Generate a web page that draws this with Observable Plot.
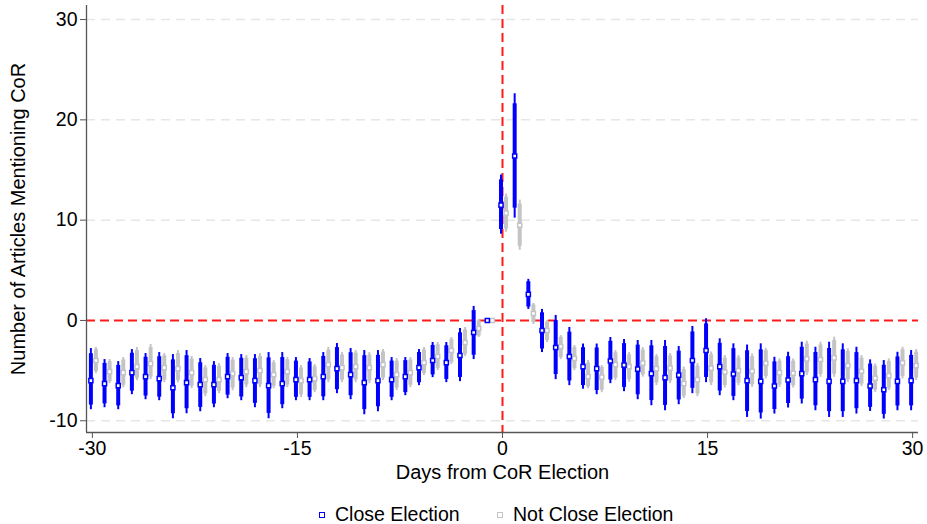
<!DOCTYPE html>
<html>
<head>
<meta charset="utf-8">
<script src="https://cdn.jsdelivr.net/npm/d3@7"></script>
<script src="https://cdn.jsdelivr.net/npm/@observablehq/plot@0.6"></script>
<style>
  html, body { margin: 0; padding: 0; background: #fff; }
  body { font-family: "Liberation Sans", Arial, Helvetica, sans-serif; width: 927px; }
  #legend { position: relative; height: 34px; font-size: 19.5px; color: #000; }
  #legend .item { position: absolute; top: 13px; display: flex; align-items: center; white-space: nowrap; }
  #legend .sw { width: 4px; height: 4px; border: 1.8px solid; background: #fff; margin-right: 10px; }
</style>
</head>
<body>
<div id="chart"></div>
<div id="legend">
  <div class="item" style="left:319px"><span class="sw" style="border-color:#0000ff"></span><span>Close Election</span></div>
  <div class="item" style="left:497px"><span class="sw" style="border-color:#c4c4c4"></span><span>Not Close Election</span></div>
</div>
<script>
// Days relative to CoR election
const days = [-30,-29,-28,-27,-26,-25,-24,-23,-22,-21,-20,-19,-18,-17,-16,-15,-14,-13,-12,-11,-10,-9,-8,-7,-6,-5,-4,-3,-2,-1,
  0,1,2,3,4,5,6,7,8,9,10,11,12,13,14,15,16,17,18,19,20,21,22,23,24,25,26,27,28,29,30];

// Close Election: point estimate, upper and lower 95% bounds
const closeEst = [-6.0,-6.3,-6.5,-5.2,-5.6,-5.8,-6.7,-6.2,-6.4,-6.4,-5.6,-5.7,-6.0,-6.5,-6.3,-5.9,-5.9,-5.6,-4.8,-5.4,-6.2,-6.0,-5.9,-5.6,-4.7,-4.0,-4.2,-3.5,-1.2,0,
  11.5,16.4,2.6,-1.0,-2.7,-3.6,-4.6,-4.8,-4.05,-4.45,-4.85,-5.3,-5.7,-5.45,-4.0,-3.0,-4.6,-5.33,-6.0,-6.07,-6.53,-5.93,-5.3,-5.9,-6.07,-6.07,-6.0,-6.53,-6.9,-6.07,-6.0];
const closeHi = [-2.8,-3.9,-4.1,-2.9,-3.3,-3.2,-3.4,-3.0,-3.8,-4.1,-3.3,-3.4,-3.4,-3.2,-3.2,-3.7,-3.8,-3.2,-2.3,-2.8,-3.0,-3.0,-3.7,-3.7,-2.9,-2.2,-2.2,-0.8,1.4,null,
  14.5,22.6,4.1,1.1,0.5,-0.7,-2.35,-2.35,-1.7,-1.9,-2.0,-2.0,-2.0,-2.6,-0.6,0.17,-1.83,-2.33,-2.45,-2.33,-3.67,-3.17,-2.17,-2.67,-2.17,-2.33,-2.67,-3.93,-4.0,-3.17,-3.0];
const closeLo = [-8.9,-8.7,-8.9,-7.4,-7.9,-8.0,-9.8,-9.3,-9.1,-8.7,-7.8,-8.0,-8.7,-9.8,-8.8,-8.0,-8.0,-8.0,-7.3,-7.9,-9.4,-9.1,-8.0,-7.5,-6.5,-5.7,-6.2,-6.1,-3.9,null,
  8.6,10.2,1.1,-3.2,-5.9,-6.5,-6.85,-7.4,-6.3,-7.1,-7.9,-8.5,-9.0,-8.4,-7.3,-6.2,-7.5,-8.0,-9.67,-9.83,-9.33,-8.73,-8.33,-9.0,-9.67,-9.67,-9.33,-9.07,-9.83,-9.0,-9.0];

// Not Close Election
const notEst = [-4.0,-5.1,-5.2,-4.6,-4.3,-4.7,-4.8,-5.2,-5.9,-5.9,-5.3,-5.1,-5.0,-5.4,-5.1,-6.0,-5.8,-4.4,-4.7,-4.6,-4.7,-4.4,-5.4,-5.2,-4.2,-3.6,-3.0,-2.2,-0.8,0,
  10.7,9.5,0.7,-1.0,-2.6,-3.8,-5.6,-5.65,-4.4,-4.6,-4.25,-4.8,-4.75,-6.3,-5.9,-4.75,-5.13,-5.0,-5.07,-4.27,-5.2,-5.27,-3.83,-3.9,-3.73,-4.5,-5.07,-5.77,-5.5,-4.23,-4.5];
const notHi = [-2.7,-3.9,-3.7,-2.7,-2.4,-3.3,-3.0,-3.6,-4.5,-4.3,-3.7,-3.5,-3.3,-4.0,-3.7,-4.5,-4.4,-2.7,-3.2,-3.0,-3.2,-2.9,-3.8,-3.7,-2.7,-2.2,-1.7,-0.7,0.1,null,
  12.6,12.0,1.7,0.0,-1.5,-2.5,-4.0,-4.5,-3.0,-3.2,-2.7,-3.4,-3.3,-4.65,-4.3,-3.15,-3.5,-3.5,-3.33,-2.77,-3.83,-3.83,-2.07,-2.17,-1.67,-2.83,-3.5,-4.33,-3.83,-2.67,-2.9];
const notLo = [-5.3,-6.3,-6.7,-6.0,-5.9,-6.2,-6.2,-6.8,-7.6,-7.3,-7.0,-6.7,-6.7,-6.8,-6.7,-7.7,-7.2,-6.2,-6.2,-6.2,-6.3,-6.0,-7.0,-6.7,-5.5,-5.0,-4.4,-3.6,-1.7,null,
  8.8,7.0,-0.4,-2.2,-3.9,-5.0,-6.8,-7.2,-6.0,-6.15,-5.65,-6.5,-6.3,-7.8,-7.6,-6.5,-6.73,-6.5,-6.67,-5.83,-6.67,-6.73,-5.5,-5.67,-5.67,-6.17,-6.6,-7.17,-7.0,-5.83,-6.0];

const xTicks = [-30, -15, 0, 15, 30];
const yTicks = [-10, 0, 10, 20, 30];
const xTitle = "Days from CoR Election";
const yTitle = "Number of Articles Mentioning CoR";

const BLUE = "#0000ff", GREY = "#c4c4c4", RED = "#ff1a1a";
const k90 = 1.645 / 1.96; // inner (90%) band relative to the 95% band

function rows(est, lo, hi, off) {
  return days.map((d, i) => ({day: d, x: d + off, est: est[i], lo: lo[i], hi: hi[i]}));
}
const closeRows = rows(closeEst, closeLo, closeHi, -0.11);
const notRows = rows(notEst, notLo, notHi, 0.26);

function series(data, color) {
  const ci = data.filter(d => d.lo != null);
  return [
    Plot.ruleX(ci, {x: "x", y1: "lo", y2: "hi", stroke: color, strokeWidth: 2}),
    Plot.ruleX(ci, {x: "x", y1: d => d.est - (d.est - d.lo) * k90, y2: d => d.est + (d.hi - d.est) * k90, stroke: color, strokeWidth: 4}),
    Plot.dot(data, {x: "x", y: "est", symbol: "square", r: 2.3, fill: "#fff", stroke: color, strokeWidth: 1.5})
  ];
}

const FONT = '"Liberation Sans", Arial, Helvetica, sans-serif';
const chart = Plot.plot({
  width: 927,
  height: 490,
  marginLeft: 86,
  marginRight: 9,
  marginTop: 5,
  marginBottom: 58,
  style: {fontFamily: FONT, fontSize: "19.5px", color: "#000", background: "#fff"},
  x: {domain: [-30.43, 30.43]},
  y: {domain: [-11.17, 31.4]},
  marks: [
    Plot.ruleY([-10, 10, 20, 30], {stroke: "#e6e6e6", strokeWidth: 1.5, strokeDasharray: "9,6"}),
    Plot.ruleY([0], {stroke: RED, strokeWidth: 2, strokeDasharray: "9,5"}),
    Plot.ruleX([0], {stroke: RED, strokeWidth: 2, strokeDasharray: "9,5"}),
    ...series(notRows, GREY),
    ...series(closeRows, BLUE),
    Plot.ruleX([-30.43], {stroke: "#555", strokeWidth: 1.3}),
    Plot.ruleY([-11.17], {stroke: "#555", strokeWidth: 1.3}),
    Plot.axisX({ticks: xTicks, tickFormat: d => String(d), tickSize: 6, tickPadding: 3, stroke: "#555", fontSize: 19.5, label: null}),
    Plot.axisY({ticks: yTicks, tickFormat: d => String(d), tickSize: 6, tickPadding: 3, stroke: "#555", fontSize: 19.5, label: null}),
    Plot.text([xTitle], {text: d => d, frameAnchor: "bottom", dy: 40, fontSize: 20, lineAnchor: "middle", textAnchor: "middle"}),
    Plot.text([yTitle], {text: d => d, frameAnchor: "left", dx: -68, rotate: -90, fontSize: 20, lineAnchor: "middle", textAnchor: "middle"})
  ]
});
document.getElementById("chart").appendChild(chart);
</script>
</body>
</html>
